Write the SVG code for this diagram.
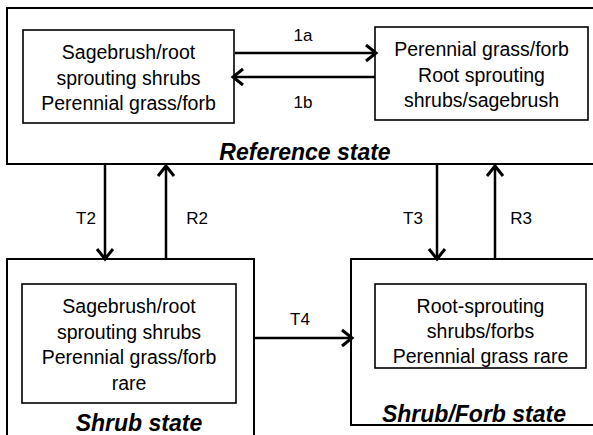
<svg xmlns="http://www.w3.org/2000/svg" width="593" height="435" viewBox="0 0 593 435">
<defs>
<marker id="arr" markerUnits="userSpaceOnUse" markerWidth="20" markerHeight="20" viewBox="-12 -10 14 20" refX="0" refY="0" orient="auto">
<path d="M-10,-8 L0,0 L-10,8" fill="none" stroke="#000" stroke-width="3"/>
</marker>
</defs>
<style>
.outer{fill:#fff;stroke:#000;stroke-width:2}
.inner{fill:#fff;stroke:#000;stroke-width:1.6}
.body{font-family:"Liberation Sans",Arial,sans-serif;font-size:19.5px;text-anchor:middle;fill:#000}
.lbl{font-family:"Liberation Sans",Arial,sans-serif;font-size:17px;text-anchor:middle;fill:#000}
.state{font-family:"Liberation Sans",Arial,sans-serif;font-size:23px;font-weight:bold;font-style:italic;text-anchor:middle;fill:#000}
.conn{stroke:#000;stroke-width:2.5;fill:none;marker-end:url(#arr)}
</style>
<rect width="593" height="435" fill="#fff"/>
<g id="reference">
<rect class="outer" x="7" y="8" width="600" height="156"/>
<text class="state" x="305" y="160">Reference state</text>
</g>
<g id="ref-left">
<rect class="inner" x="23" y="30" width="211" height="93"/>
<text class="body" x="128.5" y="59">Sagebrush/root</text>
<text class="body" x="128.5" y="85">sprouting shrubs</text>
<text class="body" x="128.5" y="110">Perennial grass/forb</text>
</g>
<g id="ref-right">
<rect class="inner" x="375" y="27" width="213" height="93"/>
<text class="body" x="481.5" y="56">Perennial grass/forb</text>
<text class="body" x="481.5" y="82">Root sprouting</text>
<text class="body" x="481.5" y="107">shrubs/sagebrush</text>
</g>
<g id="shrub">
<rect class="outer" x="7" y="259" width="247" height="190"/>
<rect class="inner" x="22" y="284" width="214" height="119"/>
<text class="body" x="129" y="313">Sagebrush/root</text>
<text class="body" x="129" y="338.5">sprouting shrubs</text>
<text class="body" x="129" y="364">Perennial grass/forb</text>
<text class="body" x="129" y="389.5">rare</text>
<text class="state" x="139" y="431">Shrub state</text>
</g>
<g id="shrubforb">
<rect class="outer" x="351" y="259" width="260" height="166"/>
<rect class="inner" x="375" y="284" width="211" height="84"/>
<text class="body" x="480.5" y="313">Root-sprouting</text>
<text class="body" x="480.5" y="338">shrubs/forbs</text>
<text class="body" x="480.5" y="363">Perennial grass rare</text>
<text class="state" x="474" y="422">Shrub/Forb state</text>
</g>
<g id="connectors">
<line class="conn" x1="235" y1="53" x2="376" y2="53"/>
<line class="conn" x1="375" y1="77" x2="233" y2="77"/>
<line class="conn" x1="105" y1="165" x2="105" y2="259"/>
<line class="conn" x1="166" y1="258" x2="166" y2="166"/>
<line class="conn" x1="437" y1="165" x2="437" y2="259"/>
<line class="conn" x1="495" y1="258" x2="495" y2="166"/>
<line class="conn" x1="255" y1="338" x2="352" y2="338"/>
<text class="lbl" x="303" y="41">1a</text>
<text class="lbl" x="303" y="108">1b</text>
<text class="lbl" x="86" y="224">T2</text>
<text class="lbl" x="197" y="224">R2</text>
<text class="lbl" x="413" y="224">T3</text>
<text class="lbl" x="521" y="224">R3</text>
<text class="lbl" x="300" y="325">T4</text>
</g>
</svg>
